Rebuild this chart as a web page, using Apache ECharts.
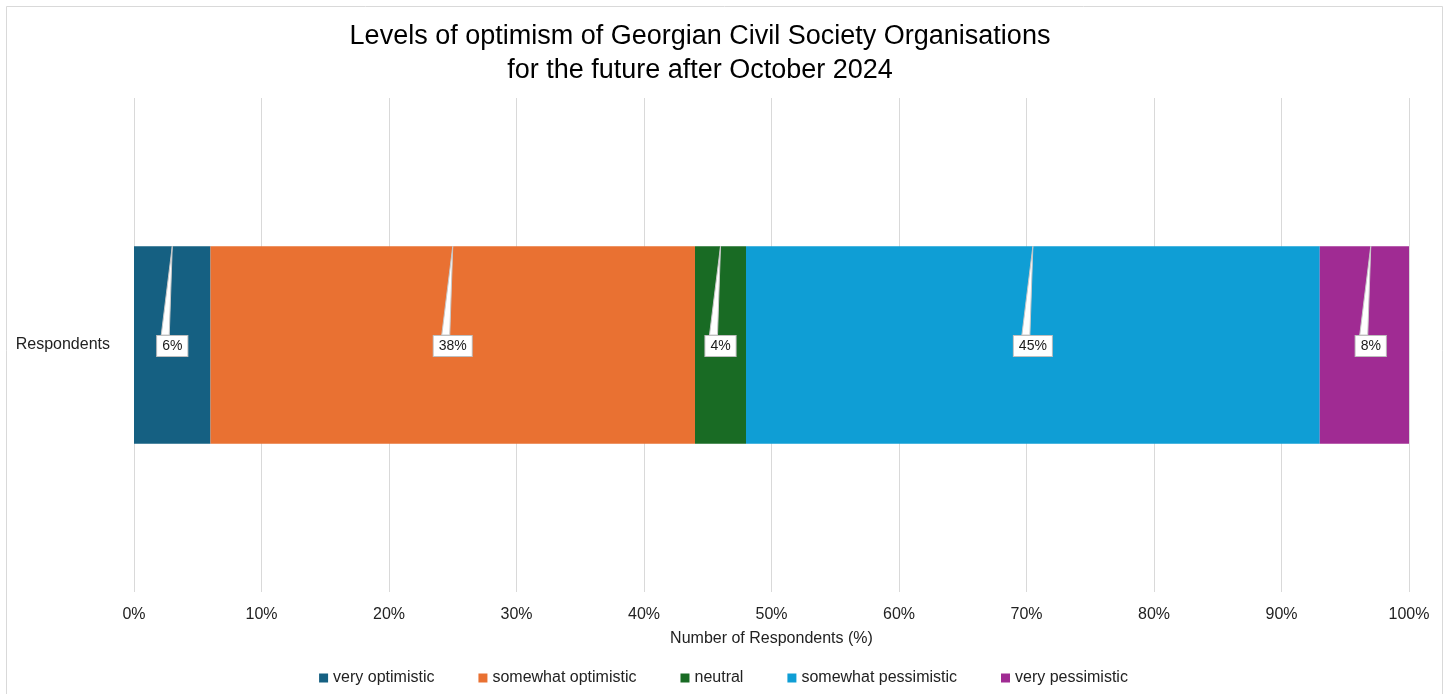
<!DOCTYPE html>
<html>
<head>
<meta charset="utf-8">
<script src="https://cdn.jsdelivr.net/npm/echarts@6/dist/echarts.min.js"></script>
<style>
  html, body { margin: 0; padding: 0; background: #fff; }
  #chart { width: 1447px; height: 694px; }
</style>
</head>
<body>
<div id="chart"></div>
<script>
// Survey answers (share of respondents, %)
const categories = ['Respondents'];
const seriesNames = ['very optimistic', 'somewhat optimistic', 'neutral', 'somewhat pessimistic', 'very pessimistic'];
const seriesValues = [6, 38, 4, 45, 8];
const seriesColors = ['#156082', '#E97132', '#196B24', '#0F9ED5', '#A02B93'];
const xTicks = { min: 0, max: 100, interval: 10 };

const FONT = '"Liberation Sans", Arial, sans-serif';
const BAR_SHARE = 0.4; // bar thickness as a share of the category band

// Stacked bars
const barSeries = seriesNames.map((name, i) => ({
  name: name,
  type: 'bar',
  stack: 'total',
  barWidth: (BAR_SHARE * 100) + '%',
  itemStyle: { color: seriesColors[i] },
  emphasis: { disabled: true },
  data: [seriesValues[i]]
}));

// Callout data: segment start, segment value
let running = 0;
const calloutData = seriesValues.map((v) => {
  const row = [running, v];
  running += v;
  return row;
});

const calloutSeries = {
  type: 'custom',
  name: 'callouts',
  clip: false,
  z: 10,
  silent: true,
  data: calloutData,
  renderItem: function (params, api) {
    const start = api.value(0);
    const val = api.value(1);
    const center = api.coord([start + val / 2, 0]);
    const band = api.size([0, 1])[1];
    const cx = center[0];
    const cy = center[1];
    const barTop = cy - band * BAR_SHARE / 2;
    const boxTop = cy - 11;
    return {
      type: 'group',
      children: [
        {
          type: 'polygon',
          shape: { points: [[cx, barTop], [cx - 11, boxTop + 1], [cx - 3, boxTop + 1]] },
          style: { fill: '#ffffff', stroke: '#c8c8c8', lineWidth: 1 }
        },
        {
          type: 'text',
          x: cx,
          y: cy + 1,
          style: {
            text: val + '%',
            align: 'center',
            verticalAlign: 'middle',
            font: '14px ' + FONT,
            fill: '#1a1a1a',
            backgroundColor: '#ffffff',
            borderColor: '#bfbfbf',
            borderWidth: 1,
            padding: [3, 5, 3, 5]
          }
        }
      ]
    };
  }
};

const chart = echarts.init(document.getElementById('chart'), null, { renderer: 'canvas' });
chart.setOption({
  animation: false,
  backgroundColor: '#ffffff',
  textStyle: { fontFamily: FONT },
  graphic: [{
    type: 'rect',
    shape: { x: 6.5, y: 6.5, width: 1436, height: 700 },
    style: { fill: 'none', stroke: '#d9d9d9', lineWidth: 1 },
    z: -1
  }],
  title: {
    text: 'Levels of optimism of Georgian Civil Society Organisations\nfor the future after October 2024',
    left: 695,
    textAlign: 'center',
    top: 15,
    textStyle: { fontFamily: FONT, fontSize: 27, fontWeight: 'normal', color: '#000', lineHeight: 34 }
  },
  legend: {
    bottom: 3,
    left: 'center',
    data: seriesNames,
    icon: 'rect',
    itemWidth: 9,
    itemHeight: 9,
    itemGap: 44,
    textStyle: { fontFamily: FONT, fontSize: 16, color: '#222' }
  },
  grid: { left: 134, right: 38, top: 98, bottom: 102, containLabel: false },
  xAxis: {
    type: 'value',
    min: xTicks.min,
    max: xTicks.max,
    interval: xTicks.interval,
    name: 'Number of Respondents (%)',
    nameLocation: 'middle',
    nameGap: 39,
    nameTextStyle: { fontFamily: FONT, fontSize: 16, color: '#222' },
    axisLine: { show: false },
    axisTick: { show: false },
    axisLabel: { formatter: '{value}%', margin: 15, fontFamily: FONT, fontSize: 16, color: '#222' },
    splitLine: { show: true, lineStyle: { color: '#d9d9d9', width: 1 } }
  },
  yAxis: {
    type: 'category',
    data: categories,
    axisLine: { show: false },
    axisTick: { show: false },
    axisLabel: { margin: 24, fontFamily: FONT, fontSize: 16, color: '#222', padding: [5, 0, 0, 0] }
  },
  series: barSeries.concat([calloutSeries])
});
</script>
</body>
</html>
